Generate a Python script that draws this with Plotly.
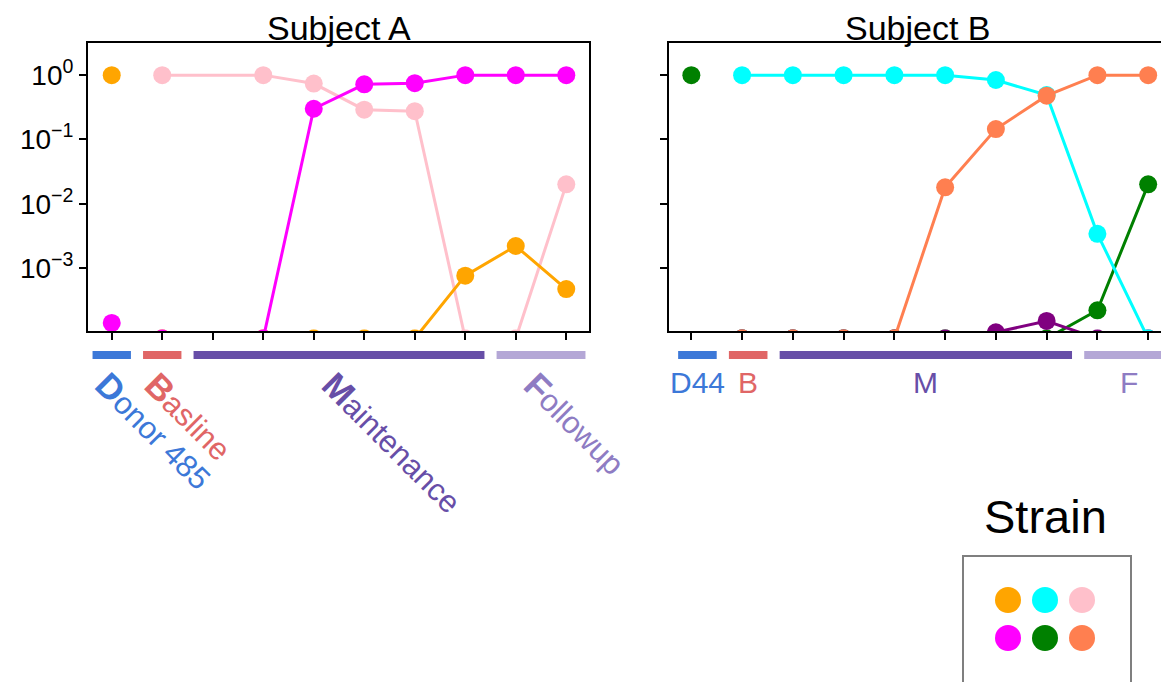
import plotly.graph_objects as go

# ---------------- data ----------------
Z = 8e-5  # undetected (below axis floor)

# Subject A
a_donor_strains = ["orange", "magenta"]
a_donor_values = [1.0, 1.4e-4]
a_times = [1, 3, 4, 5, 6, 7, 8, 9]
a_pink = [1.0, 1.0, 0.74, 0.29, 0.275, Z, Z, 0.02]
a_orange = [Z, Z, Z, Z, Z, 7.6e-4, 2.2e-3, 4.7e-4]
a_magenta = [Z, Z, 0.30, 0.72, 0.75, 1.0, 1.0, 1.0]

# Subject B
b_donor_strains = ["green"]
b_donor_values = [1.0]
b_times = [1, 2, 3, 4, 5, 6, 7, 8, 9]
b_green = [Z, Z, Z, Z, Z, Z, Z, 2.2e-4, 0.02]
b_purple = [Z, Z, Z, Z, Z, 1.0e-4, 1.5e-4, Z, Z]
b_cyan = [1.0, 1.0, 1.0, 1.0, 1.0, 0.84, 0.49, 3.4e-3, Z]
b_coral = [Z, Z, Z, Z, 0.018, 0.145, 0.48, 1.0, 1.0]

x_ticks = list(range(10))
y_tickvals = [1e-3, 1e-2, 1e-1, 1.0]
y_ticktext = ["10<sup>\u22123</sup>", "10<sup>\u22122</sup>", "10<sup>\u22121</sup>", "10<sup>0</sup>"]

# phases
phase_names_a = ["Donor 485", "Basline", "Maintenance", "Followup"]
phase_names_b = ["D44", "B", "M", "F"]
phase_start = [0, 1, 2, 8]
phase_end = [0, 1, 7, 9]
phase_bar_colors = ["#3c78d8", "#e06666", "#674ea7", "#b4a7d6"]
phase_text_colors = ["#3c78d8", "#e06666", "#674ea7", "#8e7cc3"]

legend_strains = ["orange", "cyan", "pink", "magenta", "green", "coral"]

COLORS = {
    "orange": "#FFA500", "cyan": "#00FFFF", "pink": "#FFC0CB",
    "magenta": "#FF00FF", "green": "#008000", "coral": "#FF7F50",
    "purple": "#800080",
}

W, H = 1169, 682
OFF = 8  # page body margin
FONT = "Liberation Sans, Arial, sans-serif"

fig = go.Figure()

def line_trace(x, y, strain, xa, ya):
    fig.add_trace(go.Scatter(
        x=x, y=y, mode="lines+markers", xaxis=xa, yaxis=ya,
        line=dict(color=COLORS[strain], width=3),
        marker=dict(color=COLORS[strain], size=18),
        showlegend=False, hoverinfo="skip"))

def donor_trace(strains, vals, xa, ya):
    for s, v in zip(strains, vals):
        fig.add_trace(go.Scatter(
            x=[0], y=[v], mode="markers", xaxis=xa, yaxis=ya,
            marker=dict(color=COLORS[s], size=18),
            showlegend=False, hoverinfo="skip"))

# Subject A
line_trace(a_times, a_pink, "pink", "x", "y")
line_trace(a_times, a_orange, "orange", "x", "y")
line_trace(a_times, a_magenta, "magenta", "x", "y")
donor_trace(a_donor_strains, a_donor_values, "x", "y")

# Subject B
line_trace(b_times, b_green, "green", "x2", "y2")
line_trace(b_times, b_purple, "purple", "x2", "y2")
line_trace(b_times, b_cyan, "cyan", "x2", "y2")
line_trace(b_times, b_coral, "coral", "x2", "y2")
donor_trace(b_donor_strains, b_donor_values, "x2", "y2")

# Legend grid (as its own axes)
for i, s in enumerate(legend_strains):
    fig.add_trace(go.Scatter(
        x=[i % 3], y=[-(i // 3)], mode="markers", xaxis="x3", yaxis="y3",
        marker=dict(color=COLORS[s], size=26),
        showlegend=False, hoverinfo="skip"))

def px_x(p):
    return (p - OFF) / W

def px_y(p):
    return 1 - (p - OFF) / H

ax_common = dict(showline=True, mirror=True, linecolor="black", linewidth=2,
                 ticks="outside", ticklen=7, tickwidth=2, tickcolor="black",
                 showgrid=False, zeroline=False)

top, bottom = 43, 331
yr = [-3.98, 0.5]

fig.update_layout(
    width=W, height=H, margin=dict(l=0, r=0, t=0, b=0),
    paper_bgcolor="white", plot_bgcolor="white",
    font=dict(family=FONT, color="black"),
    xaxis=dict(domain=[px_x(88), px_x(589)], range=[-0.47, 9.45],
               tickvals=x_ticks, showticklabels=False, **ax_common),
    yaxis=dict(domain=[px_y(bottom), px_y(top)], type="log", range=yr,
               tickvals=y_tickvals, ticktext=y_ticktext,
               tickfont=dict(size=28, family=FONT), **ax_common),
    xaxis2=dict(domain=[px_x(669), px_x(1170)], range=[-0.44, 9.43],
                tickvals=x_ticks, showticklabels=False, anchor="y2", **ax_common),
    yaxis2=dict(domain=[px_y(bottom), px_y(top)], type="log", range=yr,
                tickvals=y_tickvals, showticklabels=False, anchor="x2", **ax_common),
    xaxis3=dict(domain=[px_x(963), px_x(1131)], range=[-1.216, 3.324],
                visible=False, anchor="y3"),
    yaxis3=dict(domain=[px_y(682 + OFF), px_y(556)], range=[-2.37, 1.158],
                visible=False, anchor="x3"),
)

annotations = []
shapes = []

# Titles
for t, cx in (("Subject A", 339), ("Subject B", 918)):
    annotations.append(dict(text=t, x=px_x(cx), y=px_y(28), xref="paper", yref="paper",
                            xanchor="center", yanchor="middle",
                            showarrow=False, font=dict(size=34, family=FONT)))

# Phase bars and labels
pad = 0.38
bar_shift = {"x": 0.0, "x2": 0.12}
bar_y0, bar_y1 = px_y(359), px_y(351)
for xr, names, rotated in (("x", phase_names_a, True), ("x2", phase_names_b, False)):
    sh = bar_shift[xr]
    for name, s, e, bc, tc in zip(names, phase_start, phase_end, phase_bar_colors, phase_text_colors):
        shapes.append(dict(type="rect", xref=xr, yref="paper", x0=s - pad + sh, x1=e + pad + sh,
                           y0=bar_y0, y1=bar_y1, fillcolor=bc, line=dict(width=0)))
        center = (s + e) / 2 + sh
        if rotated:
            txt = "<b><span style='font-size:35px'>%s</span></b>%s" % (name[0], name[1:])
            annotations.append(dict(text=txt, x=center, xshift=-27, y=px_y(362), xref=xr, yref="paper",
                                    xanchor="left", yanchor="top", textangle=45, showarrow=False,
                                    font=dict(size=31, color=tc, family=FONT)))
        else:
            annotations.append(dict(text=name, x=center, y=px_y(383), xref=xr, yref="paper",
                                    xanchor="center", yanchor="middle", showarrow=False,
                                    font=dict(size=30, color=tc, family=FONT)))

# Legend title and frame
annotations.append(dict(text="Strain", x=px_x(1045), y=px_y(516), xref="paper", yref="paper",
                        xanchor="center", yanchor="middle",
                        showarrow=False, font=dict(size=47, family=FONT)))
shapes.append(dict(type="rect", xref="paper", yref="paper", x0=px_x(963), x1=px_x(1131),
                   y0=px_y(700), y1=px_y(556), line=dict(color="#7f7f7f", width=2),
                   fillcolor="rgba(0,0,0,0)"))

fig.update_layout(annotations=annotations, shapes=shapes)

fig.write_html("out.html")
